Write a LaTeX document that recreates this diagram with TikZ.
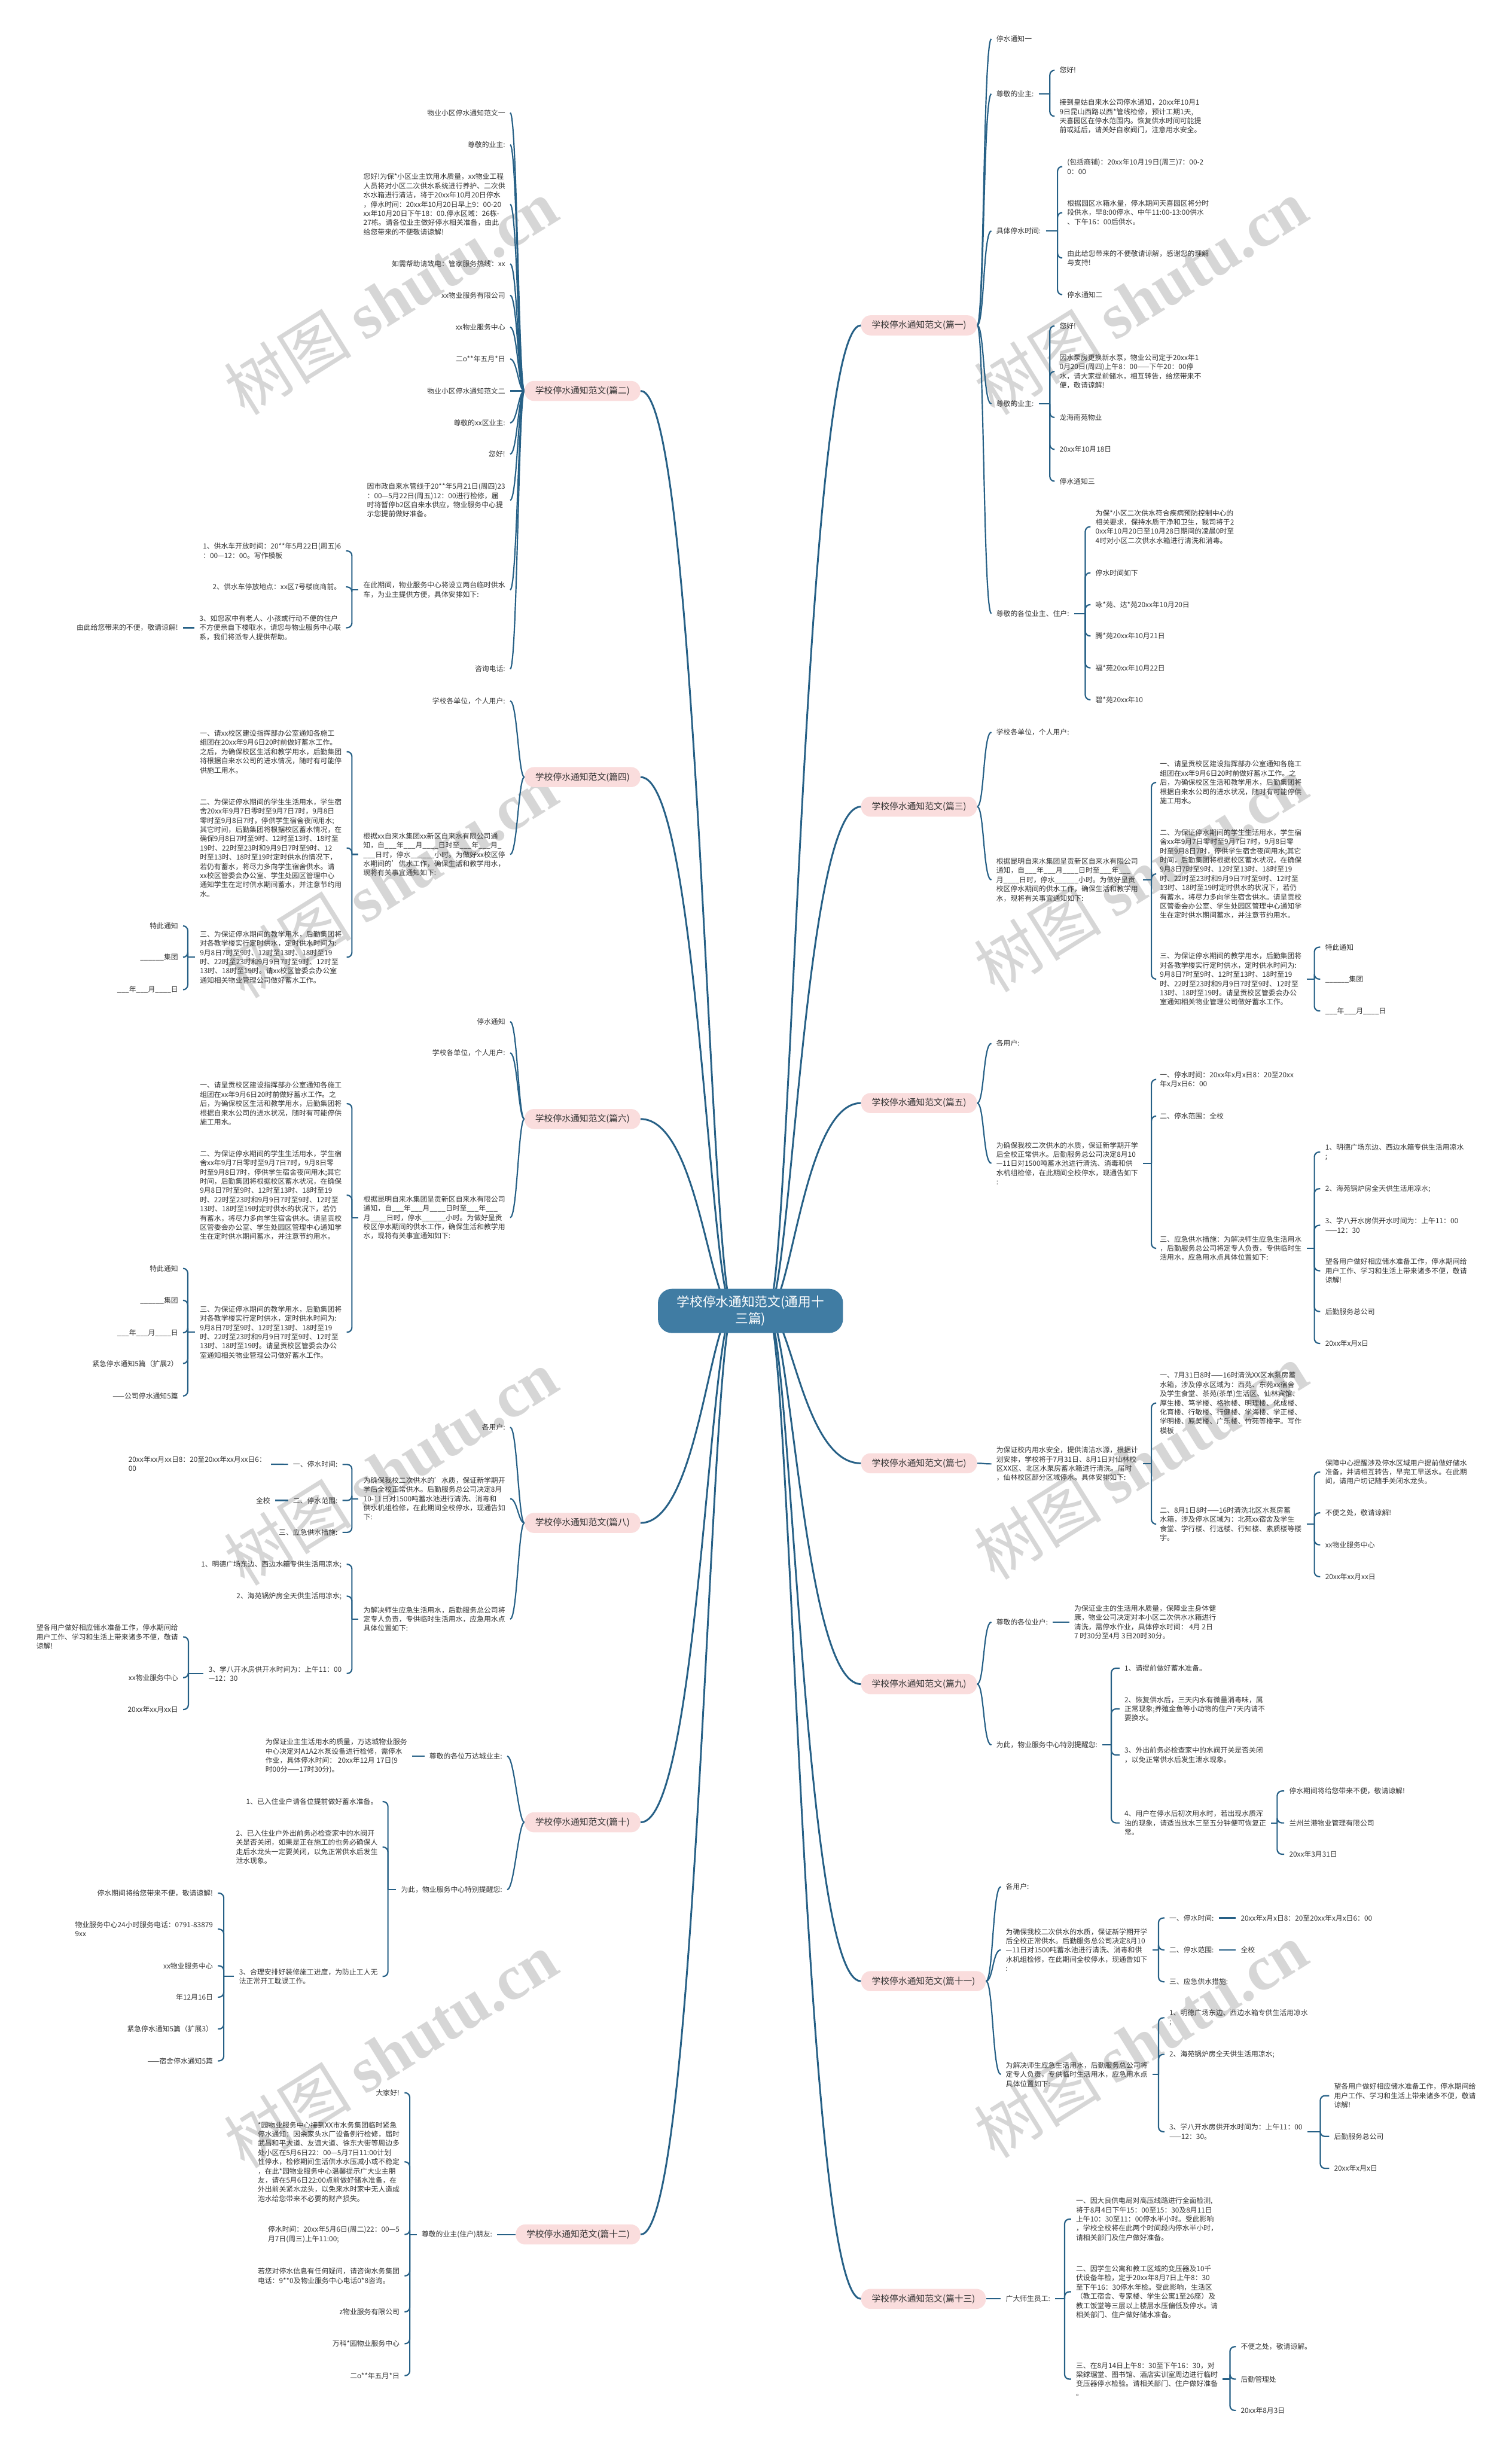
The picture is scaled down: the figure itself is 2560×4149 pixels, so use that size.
\documentclass[tikz,border=0pt]{standalone}
\usepackage{fontspec}
\setmainfont{Noto Sans CJK SC}
\newfontfamily\wmserif{Liberation Serif}
\usepackage{xcolor}
\usepackage{tikz}
\usetikzlibrary{backgrounds}

\definecolor{rootblue}{RGB}{64,124,163}
\definecolor{topicpink}{RGB}{250,221,221}
\definecolor{linkblue}{RGB}{38,96,134}
\definecolor{txtgray}{RGB}{51,51,51}
\definecolor{wmgray}{RGB}{214,214,214}

\begin{document}
\begin{tikzpicture}[x=0.5pt,y=-0.5pt,
  rootbox/.style={fill=rootblue,text=white,rounded corners=12pt,align=center,font=\fontsize{11}{14}\selectfont,inner xsep=16pt,inner ysep=6pt},
  topicbox/.style={fill=topicpink,text=txtgray,rounded corners=8pt,font=\fontsize{7.5}{9}\selectfont,inner xsep=9pt,minimum height=17pt},
  leafbox/.style={text=txtgray,align=left,font=\fontsize{6}{7.8}\selectfont,inner xsep=4pt,inner ysep=1pt},
  rleaf/.style={leafbox,anchor=west},
  lleaf/.style={leafbox,anchor=east},
  mainline/.style={draw,color=linkblue,line width=1.5pt},
  branchline/.style={draw,color=linkblue,line width=1.1pt},
  subline/.style={branchline,rounded corners=4pt},
  rmain/.style={to path={.. controls +(40,0) and +(-98,0) .. (\tikztotarget)}},
  lmain/.style={to path={.. controls +(-40,0) and +(98,0) .. (\tikztotarget)}},
  rcurve/.style={to path={.. controls +(12,0) and +(-14,0) .. (\tikztotarget)}},
  lcurve/.style={to path={.. controls +(-10,0) and +(12,0) .. (\tikztotarget)}},
  brk/.style={to path={|- (\tikztotarget)}},
  wmark/.style={text=wmgray,rotate=32,font=\fontsize{54}{60}\selectfont}]

\useasboundingbox (0,0) rectangle (2560,4149);

\node[rootbox] (root) at (1271,2220) {学校停水通知范文(通用十\\三篇)};
\coordinate (rootR) at (1300,2220);
\coordinate (rootL) at (1242,2220);

\node[topicbox,anchor=west] (b1) at (1458,551) {学校停水通知范文(篇一)};
\node[topicbox,anchor=west] (b3) at (1458,1366) {学校停水通知范文(篇三)};
\node[topicbox,anchor=west] (b5) at (1458,1868) {学校停水通知范文(篇五)};
\node[topicbox,anchor=west] (b7) at (1458,2478) {学校停水通知范文(篇七)};
\node[topicbox,anchor=west] (b9) at (1458,2852) {学校停水通知范文(篇九)};
\node[topicbox,anchor=west] (b11) at (1458,3355) {学校停水通知范文(篇十一)};
\node[topicbox,anchor=west] (b13) at (1458,3893) {学校停水通知范文(篇十三)};
\node[topicbox,anchor=east] (b2) at (1085,662) {学校停水通知范文(篇二)};
\node[topicbox,anchor=east] (b4) at (1085,1316) {学校停水通知范文(篇四)};
\node[topicbox,anchor=east] (b6) at (1085,1895) {学校停水通知范文(篇六)};
\node[topicbox,anchor=east] (b8) at (1085,2579) {学校停水通知范文(篇八)};
\node[topicbox,anchor=east] (b10) at (1085,3086) {学校停水通知范文(篇十)};
\node[topicbox,anchor=east] (b12) at (1085,3784) {学校停水通知范文(篇十二)};

\node[rleaf] (n1a) at (1679,66) {停水通知一};
\node[rleaf] (n1b) at (1679,159) {尊敬的业主:};
\node[rleaf] (n1b1) at (1786,119) {您好!};
\node[rleaf] (n1b2) at (1786,197) {接到皇姑自来水公司停水通知，20xx年10月1\\9日昆山西路以西*管线检修，预计工期1天,\\天喜园区在停水范围内。恢复供水时间可能提\\前或延后，请关好自家阀门，注意用水安全。};
\node[rleaf] (n1c) at (1679,391) {具体停水时间:};
\node[rleaf] (n1c1) at (1799,282) {(包括商铺)：20xx年10月19日(周三)7：00-2\\0：00};
\node[rleaf] (n1c2) at (1799,360) {根据园区水箱水量，停水期间天喜园区将分时\\段供水，早8:00停水、中午11:00-13:00供水\\、下午16：00后供水。};
\node[rleaf] (n1c3) at (1799,437) {由此给您带来的不便敬请谅解，感谢您的理解\\与支持!};
\node[rleaf] (n1c4) at (1799,499) {停水通知二};
\node[rleaf] (n1d) at (1679,684) {尊敬的业主:};
\node[rleaf] (n1d1) at (1786,552) {您好!};
\node[rleaf] (n1d2) at (1786,629) {因水泵房更换新水泵，物业公司定于20xx年1\\0月20日(周四)上午8：00——下午20：00停\\水，请大家提前储水，相互转告，给您带来不\\便，敬请谅解!};
\node[rleaf] (n1d3) at (1786,707) {龙海南苑物业};
\node[rleaf] (n1d4) at (1786,761) {20xx年10月18日};
\node[rleaf] (n1d5) at (1786,815) {停水通知三};
\node[rleaf] (n1e) at (1679,1039) {尊敬的各位业主、住户:};
\node[rleaf] (n1e1) at (1847,892) {为保*小区二次供水符合疾病预防控制中心的\\相关要求，保持水质干净和卫生，我司将于2\\0xx年10月20日至10月28日期间的凌晨0时至\\4时对小区二次供水水箱进行清洗和消毒。};
\node[rleaf] (n1e2) at (1847,970) {停水时间如下};
\node[rleaf] (n1e3) at (1847,1024) {咏*苑、达*苑20xx年10月20日};
\node[rleaf] (n1e4) at (1847,1077) {腾*苑20xx年10月21日};
\node[rleaf] (n1e5) at (1847,1131) {福*苑20xx年10月22日};
\node[rleaf] (n1e6) at (1847,1185) {碧*苑20xx年10};

\node[rleaf] (n3a) at (1679,1240) {学校各单位，个人用户:};
\node[rleaf] (n3b) at (1679,1490) {根据昆明自来水集团呈贡新区自来水有限公司\\通知，自\_\_\_年\_\_\_月\_\_\_\_日时至\_\_\_年\_\_\_\\月\_\_\_\_日时，停水\_\_\_\_\_\_小时。为做好呈贡\\校区停水期间的供水工作，确保生活和教学用\\水，现将有关事宜通知如下:};
\node[rleaf] (n3b1) at (1956,1325) {一、请呈贡校区建设指挥部办公室通知各施工\\组团在xx年9月6日20时前做好蓄水工作。之\\后，为确保校区生活和教学用水，后勤集团将\\根据自来水公司的进水状况，随时有可能停供\\施工用水。};
\node[rleaf] (n3b2) at (1956,1480) {二、为保证停水期间的学生生活用水，学生宿\\舍xx年9月7日零时至9月7日7时，9月8日零\\时至9月8日7时，停供学生宿舍夜间用水;其它\\时间，后勤集团将根据校区蓄水状况，在确保\\9月8日7时至9时、12时至13时、18时至19\\时、22时至23时和9月9日7时至9时、12时至\\13时、18时至19时定时供水的状况下，若仍\\有蓄水，将尽力多向学生宿舍供水。请呈贡校\\区管委会办公室、学生处园区管理中心通知学\\生在定时供水期间蓄水，并注意节约用水。};
\node[rleaf] (n3b3) at (1956,1658) {三、为保证停水期间的教学用水，后勤集团将\\对各教学楼实行定时供水，定时供水时间为:\\9月8日7时至9时、12时至13时、18时至19\\时、22时至23时和9月9日7时至9时、12时至\\13时、18时至19时。请呈贡校区管委会办公\\室通知相关物业管理公司做好蓄水工作。};
\node[rleaf] (n3b3a) at (2236,1604) {特此通知};
\node[rleaf] (n3b3b) at (2236,1658) {\_\_\_\_\_\_集团};
\node[rleaf] (n3b3c) at (2236,1712) {\_\_\_年\_\_\_月\_\_\_\_日};

\node[rleaf] (n5a) at (1679,1767) {各用户:};
\node[rleaf] (n5b) at (1679,1970) {为确保我校二次供水的水质，保证新学期开学\\后全校正常供水。后勤服务总公司决定8月10\\—11日对1500吨蓄水池进行清洗、消毒和供\\水机组检修，在此期间全校停水，现通告如下\\:};
\node[rleaf] (n5b1) at (1956,1828) {一、停水时间：20xx年x月x日8：20至20xx\\年x月x日6：00};
\node[rleaf] (n5b2) at (1956,1890) {二、停水范围：全校};
\node[rleaf] (n5b3) at (1956,2114) {三、应急供水措施：为解决师生应急生活用水\\，后勤服务总公司将定专人负责，专供临时生\\活用水，应急用水点具体位置如下:};
\node[rleaf] (n5b3a) at (2236,1951) {1、明德广场东边、西边水箱专供生活用凉水\\;};
\node[rleaf] (n5b3b) at (2236,2013) {2、海苑锅炉房全天供生活用凉水;};
\node[rleaf] (n5b3c) at (2236,2075) {3、学八开水房供开水时间为：上午11：00\\——12：30};
\node[rleaf] (n5b3d) at (2236,2152) {望各用户做好相应储水准备工作，停水期间给\\用户工作、学习和生活上带来诸多不便，敬请\\谅解!};
\node[rleaf] (n5b3e) at (2236,2221) {后勤服务总公司};
\node[rleaf] (n5b3f) at (2236,2275) {20xx年x月x日};

\node[rleaf] (n7a) at (1679,2479) {为保证校内用水安全，提供清洁水源，根据计\\划安排，学校将于7月31日、8月1日对仙林校\\区XX区、北区水泵房蓄水箱进行清洗。届时\\，仙林校区部分区域停水。具体安排如下:};
\node[rleaf] (n7a1) at (1956,2376) {一、7月31日8时——16时清洗XX区水泵房蓄\\水箱，涉及停水区域为：西苑、东苑xx宿舍\\及学生食堂、茶苑(茶单)生活区、仙林宾馆、\\厚生楼、笃学楼、格物楼、明理楼、化成楼、\\化育楼、行敏楼、行健楼、学海楼、学正楼、\\学明楼、原美楼、广乐楼、竹苑等楼宇。写作\\模板};
\node[rleaf] (n7a2) at (1956,2581) {二、8月1日8时——16时清洗北区水泵房蓄\\水箱，涉及停水区域为：北苑xx宿舍及学生\\食堂、学行楼、行远楼、行知楼、素质楼等楼\\宇。};
\node[rleaf] (n7a2a) at (2236,2493) {保障中心提醒涉及停水区域用户提前做好储水\\准备，并请相互转告，早完工早送水。在此期\\间，请用户切记随手关闭水龙头。};
\node[rleaf] (n7a2b) at (2236,2562) {不便之处，敬请谅解!};
\node[rleaf] (n7a2c) at (2236,2616) {xx物业服务中心};
\node[rleaf] (n7a2d) at (2236,2670) {20xx年xx月xx日};

\node[rleaf] (n9a) at (1679,2747) {尊敬的各位业户:};
\node[rleaf] (n9a1) at (1811,2747) {为保证业主的生活用水质量，保障业主身体健\\康，物业公司决定对本小区二次供水水箱进行\\清洗，需停水作业，具体停水时间： 4月 2日\\7 时30分至4月 3日20时30分。};
\node[rleaf] (n9b) at (1679,2955) {为此，物业服务中心特别提醒您:};
\node[rleaf] (n9b1) at (1896,2825) {1、请提前做好蓄水准备。};
\node[rleaf] (n9b2) at (1896,2894) {2、恢复供水后，三天内水有微量消毒味，属\\正常现象;养殖金鱼等小动物的住户7天内请不\\要换水。};
\node[rleaf] (n9b3) at (1896,2972) {3、外出前务必检查家中的水阀开关是否关闭\\，以免正常供水后发生泄水现象。};
\node[rleaf] (n9b4) at (1896,3087) {4、用户在停水后初次用水时，若出现水质浑\\浊的现象，请适当放水三至五分钟便可恢复正\\常。};
\node[rleaf] (n9b4a) at (2175,3033) {停水期间将给您带来不便，敬请谅解!};
\node[rleaf] (n9b4b) at (2175,3087) {兰州兰港物业管理有限公司};
\node[rleaf] (n9b4c) at (2175,3140) {20xx年3月31日};

\node[rleaf] (n11a) at (1695,3195) {各用户:};
\node[rleaf] (n11b) at (1695,3302) {为确保我校二次供水的水质，保证新学期开学\\后全校正常供水。后勤服务总公司决定8月10\\—11日对1500吨蓄水池进行清洗、消毒和供\\水机组检修，在此期间全校停水，现通告如下\\:};
\node[rleaf] (n11b1) at (1972,3248) {一、停水时间:};
\node[rleaf] (n11b1a) at (2093,3248) {20xx年x月x日8：20至20xx年x月x日6：00};
\node[rleaf] (n11b2) at (1972,3302) {二、停水范围:};
\node[rleaf] (n11b2a) at (2093,3302) {全校};
\node[rleaf] (n11b3) at (1972,3356) {三、应急供水措施:};
\node[rleaf] (n11c) at (1695,3513) {为解决师生应急生活用水，后勤服务总公司将\\定专人负责，专供临时生活用水，应急用水点\\具体位置如下:};
\node[rleaf] (n11c1) at (1972,3417) {1、明德广场东边、西边水箱专供生活用凉水\\;};
\node[rleaf] (n11c2) at (1972,3479) {2、海苑锅炉房全天供生活用凉水;};
\node[rleaf] (n11c3) at (1972,3610) {3、学八开水房供开水时间为：上午11：00\\——12：30。};
\node[rleaf] (n11c3a) at (2251,3549) {望各用户做好相应储水准备工作，停水期间给\\用户工作、学习和生活上带来诸多不便，敬请\\谅解!};
\node[rleaf] (n11c3b) at (2251,3618) {后勤服务总公司};
\node[rleaf] (n11c3c) at (2251,3672) {20xx年x月x日};

\node[rleaf] (n13a) at (1695,3893) {广大师生员工:};
\node[rleaf] (n13a1) at (1814,3758) {一、因大良供电局对高压线路进行全面检测,\\将于8月4日下午15：00至15：30及8月11日\\上午10：30至11：00停水半小时。受此影响\\，学校全校将在此两个时间段内停水半小时，\\请相关部门及住户做好准备。};
\node[rleaf] (n13a2) at (1814,3881) {二、因学生公寓和教工区域的变压器及10千\\伏设备年检，定于20xx年8月7日上午8：30\\至下午16：30停水年检。受此影响，生活区\\（教工宿舍、专家楼、学生公寓1至26座）及\\教工饭堂等三层以上楼层水压偏低及停水。请\\相关部门、住户做好储水准备。};
\node[rleaf] (n13a3) at (1814,4029) {三、在8月14日上午8：30至下午16：30，对\\梁銶琚堂、图书馆、酒店实训室周边进行临时\\变压器停水检验。请相关部门、住户做好准备\\。};
\node[rleaf] (n13a3a) at (2093,3974) {不便之处，敬请谅解。};
\node[rleaf] (n13a3b) at (2093,4029) {后勤管理处};
\node[rleaf] (n13a3c) at (2093,4082) {20xx年8月3日};

\node[lleaf] (n2a) at (864,191) {物业小区停水通知范文一};
\node[lleaf] (n2b) at (864,245) {尊敬的业主:};
\node[lleaf] (n2c) at (864,346) {您好!为保*小区业主饮用水质量，xx物业工程\\人员将对小区二次供水系统进行养护、二次供\\水水箱进行清洁，将于20xx年10月20日停水\\，停水时间：20xx年10月20日早上9：00-20\\xx年10月20日下午18：00.停水区域：26栋-\\27栋。请各位业主做好停水相关准备，由此\\给您带来的不便敬请谅解!};
\node[lleaf] (n2d) at (864,447) {如需帮助请致电：管家服务热线：xx};
\node[lleaf] (n2e) at (864,500) {xx物业服务有限公司};
\node[lleaf] (n2f) at (864,554) {xx物业服务中心};
\node[lleaf] (n2g) at (864,608) {二o**年五月*日};
\node[lleaf] (n2h) at (864,662) {物业小区停水通知范文二};
\node[lleaf] (n2i) at (864,716) {尊敬的xx区业主:};
\node[lleaf] (n2j) at (864,769) {您好!};
\node[lleaf] (n2k) at (864,847) {因市政自来水管线于20**年5月21日(周四)23\\：00—5月22日(周五)12：00进行检修，届\\时将暂停b2区自来水供应，物业服务中心提\\示您提前做好准备。};
\node[lleaf] (n2l) at (864,999) {在此期间，物业服务中心将设立两台临时供水\\车，为业主提供方便，具体安排如下:};
\node[lleaf] (n2l1) at (586,933) {1、供水车开放时间：20**年5月22日(周五)6\\：00—12：00。写作模板};
\node[lleaf] (n2l2) at (586,994) {2、供水车停放地点：xx区7号楼底商前。};
\node[lleaf] (n2l3) at (586,1063) {3、如您家中有老人、小孩或行动不便的住户\\不方便亲自下楼取水，请您与物业服务中心联\\系，我们将派专人提供帮助。};
\node[lleaf] (n2l3a) at (310,1063) {由此给您带来的不便，敬请谅解!};
\node[lleaf] (n2m) at (864,1133) {咨询电话:};

\node[lleaf] (n4a) at (864,1187) {学校各单位，个人用户:};
\node[lleaf] (n4b) at (864,1447) {根据xx自来水集团xx新区自来水有限公司通\\知，自\_\_\_年\_\_\_月\_\_\_\_日时至\_\_\_年\_\_\_月\_\\\_\_\_日时，停水\_\_\_\_\_\_小时。为做好xx校区停\\水期间的'供水工作，确保生活和教学用水，\\现将有关事宜通知如下:};
\node[lleaf] (n4b1) at (587,1273) {一、请xx校区建设指挥部办公室通知各施工\\组团在20xx年9月6日20时前做好蓄水工作。\\之后，为确保校区生活和教学用水，后勤集团\\将根据自来水公司的进水情况，随时有可能停\\供施工用水。};
\node[lleaf] (n4b2) at (587,1436) {二、为保证停水期间的学生生活用水，学生宿\\舍20xx年9月7日零时至9月7日7时，9月8日\\零时至9月8日7时，停供学生宿舍夜间用水;\\其它时间，后勤集团将根据校区蓄水情况，在\\确保9月8日7时至9时、12时至13时、18时至\\19时、22时至23时和9月9日7时至9时、12\\时至13时、18时至19时定时供水的情况下，\\若仍有蓄水，将尽力多向学生宿舍供水。请\\xx校区管委会办公室、学生处园区管理中心\\通知学生在定时供水期间蓄水，并注意节约用\\水。};
\node[lleaf] (n4b3) at (587,1621) {三、为保证停水期间的教学用水，后勤集团将\\对各教学楼实行定时供水，定时供水时间为:\\9月8日7时至9时、12时至13时、18时至19\\时、22时至23时和9月9日7时至9时、12时至\\13时、18时至19时。请xx校区管委会办公室\\通知相关物业管理公司做好蓄水工作。};
\node[lleaf] (n4b3a) at (310,1568) {特此通知};
\node[lleaf] (n4b3b) at (310,1621) {\_\_\_\_\_\_集团};
\node[lleaf] (n4b3c) at (310,1676) {\_\_\_年\_\_\_月\_\_\_\_日};

\node[lleaf] (n6a) at (864,1730) {停水通知};
\node[lleaf] (n6b) at (864,1783) {学校各单位，个人用户:};
\node[lleaf] (n6c) at (864,2062) {根据昆明自来水集团呈贡新区自来水有限公司\\通知，自\_\_\_年\_\_\_月\_\_\_\_日时至\_\_\_年\_\_\_\\月\_\_\_\_日时，停水\_\_\_\_\_\_小时。为做好呈贡\\校区停水期间的供水工作，确保生活和教学用\\水，现将有关事宜通知如下:};
\node[lleaf] (n6c1) at (587,1869) {一、请呈贡校区建设指挥部办公室通知各施工\\组团在xx年9月6日20时前做好蓄水工作。之\\后，为确保校区生活和教学用水，后勤集团将\\根据自来水公司的进水状况，随时有可能停供\\施工用水。};
\node[lleaf] (n6c2) at (587,2024) {二、为保证停水期间的学生生活用水，学生宿\\舍xx年9月7日零时至9月7日7时，9月8日零\\时至9月8日7时，停供学生宿舍夜间用水;其它\\时间，后勤集团将根据校区蓄水状况，在确保\\9月8日7时至9时、12时至13时、18时至19\\时、22时至23时和9月9日7时至9时、12时至\\13时、18时至19时定时供水的状况下，若仍\\有蓄水，将尽力多向学生宿舍供水。请呈贡校\\区管委会办公室、学生处园区管理中心通知学\\生在定时供水期间蓄水，并注意节约用水。};
\node[lleaf] (n6c3) at (587,2256) {三、为保证停水期间的教学用水，后勤集团将\\对各教学楼实行定时供水，定时供水时间为:\\9月8日7时至9时、12时至13时、18时至19\\时、22时至23时和9月9日7时至9时、12时至\\13时、18时至19时。请呈贡校区管委会办公\\室通知相关物业管理公司做好蓄水工作。};
\node[lleaf] (n6c3a) at (310,2148) {特此通知};
\node[lleaf] (n6c3b) at (310,2202) {\_\_\_\_\_\_集团};
\node[lleaf] (n6c3c) at (310,2257) {\_\_\_年\_\_\_月\_\_\_\_日};
\node[lleaf] (n6c3d) at (310,2309) {紧急停水通知5篇（扩展2）};
\node[lleaf] (n6c3e) at (310,2364) {——公司停水通知5篇};

\node[lleaf] (n8a) at (864,2417) {各用户:};
\node[lleaf] (n8b) at (864,2538) {为确保我校二次供水的'水质，保证新学期开\\学后全校正常供水。后勤服务总公司决定8月\\10-11日对1500吨蓄水池进行清洗、消毒和\\供水机组检修，在此期间全校停水，现通告如\\下:};
\node[lleaf] (n8b1) at (580,2480) {一、停水时间:};
\node[lleaf] (n8b1a) at (459,2479) {20xx年xx月xx日8：20至20xx年xx月xx日6：\\00};
\node[lleaf] (n8b2) at (580,2541) {二、停水范围:};
\node[lleaf] (n8b2a) at (466,2541) {全校};
\node[lleaf] (n8b3) at (580,2595) {三、应急供水措施:};
\node[lleaf] (n8c) at (864,2742) {为解决师生应急生活用水，后勤服务总公司将\\定专人负责，专供临时生活用水，应急用水点\\具体位置如下:};
\node[lleaf] (n8c1) at (587,2649) {1、明德广场东边、西边水箱专供生活用凉水;};
\node[lleaf] (n8c2) at (587,2703) {2、海苑锅炉房全天供生活用凉水;};
\node[lleaf] (n8c3) at (587,2834) {3、学八开水房供开水时间为：上午11：00\\—12：30};
\node[lleaf] (n8c3a) at (310,2772) {望各用户做好相应储水准备工作，停水期间给\\用户工作、学习和生活上带来诸多不便，敬请\\谅解!};
\node[lleaf] (n8c3b) at (310,2841) {xx物业服务中心};
\node[lleaf] (n8c3c) at (310,2895) {20xx年xx月xx日};

\node[lleaf] (n10a) at (859,2974) {尊敬的各位万达城业主:};
\node[lleaf] (n10a1) at (698,2974) {为保证业主生活用水的质量，万达城物业服务\\中心决定对A1A2水泵设备进行检修，需停水\\作业，具体停水时间： 20xx年12月 17日(9\\时00分——17时30分)。};
\node[lleaf] (n10b) at (859,3200) {为此，物业服务中心特别提醒您:};
\node[lleaf] (n10b1) at (648,3051) {1、已入住业户请各位提前做好蓄水准备。};
\node[lleaf] (n10b2) at (648,3128) {2、已入住业户外出前务必检查家中的水阀开\\关是否关闭，如果是正在施工的也务必确保人\\走后水龙头一定要关闭，以免正常供水后发生\\泄水现象。};
\node[lleaf] (n10b3) at (648,3347) {3、合理安排好装修施工进度，为防止工人无\\法正常开工耽误工作。};
\node[lleaf] (n10b3a) at (369,3206) {停水期间将给您带来不便，敬请谅解!};
\node[lleaf] (n10b3b) at (369,3267) {物业服务中心24小时服务电话：0791-83879\\9xx};
\node[lleaf] (n10b3c) at (369,3329) {xx物业服务中心};
\node[lleaf] (n10b3d) at (369,3382) {年12月16日};
\node[lleaf] (n10b3e) at (369,3436) {紧急停水通知5篇（扩展3）};
\node[lleaf] (n10b3f) at (369,3490) {——宿舍停水通知5篇};

\node[lleaf] (n12a) at (842,3784) {尊敬的业主(住户)朋友:};
\node[lleaf] (n12a1) at (685,3544) {大家好!};
\node[lleaf] (n12a2) at (685,3661) {*园物业服务中心接到XX市水务集团临时紧急\\停水通知：因余家头水厂设备例行检修，届时\\武昌和平大道、友谊大道、徐东大街等周边多\\处小区在5月6日22：00—5月7日11:00计划\\性停水，检修期间生活供水水压减小或不稳定\\，在此*园物业服务中心温馨提示广大业主朋\\友，请在5月6日22:00点前做好储水准备，在\\外出前关紧水龙头，以免来水时家中无人造成\\泡水给您带来不必要的财产损失。};
\node[lleaf] (n12a3) at (685,3784) {停水时间：20xx年5月6日(周二)22：00—5\\月7日(周三)上午11:00;};
\node[lleaf] (n12a4) at (685,3854) {若您对停水信息有任何疑问，请咨询水务集团\\电话：9**0及物业服务中心电话0*8咨询。};
\node[lleaf] (n12a5) at (685,3915) {z物业服务有限公司};
\node[lleaf] (n12a6) at (685,3969) {万科*园物业服务中心};
\node[lleaf] (n12a7) at (685,4023) {二o**年五月*日};

\begin{scope}[on background layer]
  \fill[white] (0,0) rectangle (2560,4149);
  \node[wmark] (wm1) at (662,503) {树图 {\wmserif\bfseries shutu.cn}};
  \node[wmark] (wm2) at (1932,503) {树图 {\wmserif\bfseries shutu.cn}};
  \node[wmark] (wm3) at (662,1490) {树图 {\wmserif\bfseries shutu.cn}};
  \node[wmark] (wm4) at (1932,1480) {树图 {\wmserif\bfseries shutu.cn}};
  \node[wmark] (wm5) at (662,2485) {树图 {\wmserif\bfseries shutu.cn}};
  \node[wmark] (wm6) at (1932,2475) {树图 {\wmserif\bfseries shutu.cn}};
  \node[wmark] (wm7) at (662,3472) {树图 {\wmserif\bfseries shutu.cn}};
  \node[wmark] (wm8) at (1932,3455) {树图 {\wmserif\bfseries shutu.cn}};

  \path[mainline] (rootR) edge[rmain] (b1.west) edge[rmain] (b3.west) edge[rmain] (b5.west)
        edge[rmain] (b7.west) edge[rmain] (b9.west) edge[rmain] (b11.west) edge[rmain] (b13.west);
  \path[mainline] (rootL) edge[lmain] (b2.east) edge[lmain] (b4.east) edge[lmain] (b6.east)
        edge[lmain] (b8.east) edge[lmain] (b10.east) edge[lmain] (b12.east);

  \path[branchline] (b1.east) edge[rcurve] (n1a.west) edge[rcurve] (n1b.west) edge[rcurve] (n1c.west)
        edge[rcurve] (n1d.west) edge[rcurve] (n1e.west);
  \path[branchline] (b3.east) edge[rcurve] (n3a.west) edge[rcurve] (n3b.west);
  \path[branchline] (b5.east) edge[rcurve] (n5a.west) edge[rcurve] (n5b.west);
  \path[branchline] (b7.east) edge[rcurve] (n7a.west);
  \path[branchline] (b9.east) edge[rcurve] (n9a.west) edge[rcurve] (n9b.west);
  \path[branchline] (b11.east) edge[rcurve] (n11a.west) edge[rcurve] (n11b.west) edge[rcurve] (n11c.west);
  \path[branchline] (b13.east) edge[rcurve] (n13a.west);
  \path[branchline] (b2.west) edge[lcurve] (n2a.east) edge[lcurve] (n2b.east) edge[lcurve] (n2c.east)
        edge[lcurve] (n2d.east) edge[lcurve] (n2e.east) edge[lcurve] (n2f.east) edge[lcurve] (n2g.east)
        edge[lcurve] (n2h.east) edge[lcurve] (n2i.east) edge[lcurve] (n2j.east) edge[lcurve] (n2k.east)
        edge[lcurve] (n2l.east) edge[lcurve] (n2m.east);
  \path[branchline] (b4.west) edge[lcurve] (n4a.east) edge[lcurve] (n4b.east);
  \path[branchline] (b6.west) edge[lcurve] (n6a.east) edge[lcurve] (n6b.east) edge[lcurve] (n6c.east);
  \path[branchline] (b8.west) edge[lcurve] (n8a.east) edge[lcurve] (n8b.east) edge[lcurve] (n8c.east);
  \path[branchline] (b10.west) edge[lcurve] (n10a.east) edge[lcurve] (n10b.east);
  \path[branchline] (b12.west) edge[lcurve] (n12a.east);

  \draw[subline] (n1b) -- (1778,0 |- n1b) edge[brk] (n1b1) edge[brk] (n1b2);
  \draw[subline] (n1c) -- (1791,0 |- n1c) edge[brk] (n1c1) edge[brk] (n1c2) edge[brk] (n1c3) edge[brk] (n1c4);
  \draw[subline] (n1d) -- (1778,0 |- n1d) edge[brk] (n1d1) edge[brk] (n1d2) edge[brk] (n1d3) edge[brk] (n1d4) edge[brk] (n1d5);
  \draw[subline] (n1e) -- (1838,0 |- n1e) edge[brk] (n1e1) edge[brk] (n1e2) edge[brk] (n1e3) edge[brk] (n1e4) edge[brk] (n1e5) edge[brk] (n1e6);
  \draw[subline] (n3b) -- (1950,0 |- n3b) edge[brk] (n3b1) edge[brk] (n3b2) edge[brk] (n3b3);
  \draw[subline] (n3b3) -- (2226,0 |- n3b3) edge[brk] (n3b3a) edge[brk] (n3b3b) edge[brk] (n3b3c);
  \draw[subline] (n5b) -- (1950,0 |- n5b) edge[brk] (n5b1) edge[brk] (n5b2) edge[brk] (n5b3);
  \draw[subline] (n5b3) -- (2226,0 |- n5b3) edge[brk] (n5b3a) edge[brk] (n5b3b) edge[brk] (n5b3c) edge[brk] (n5b3d) edge[brk] (n5b3e) edge[brk] (n5b3f);
  \draw[subline] (n7a) -- (1950,0 |- n7a) edge[brk] (n7a1) edge[brk] (n7a2);
  \draw[subline] (n7a2) -- (2226,0 |- n7a2) edge[brk] (n7a2a) edge[brk] (n7a2b) edge[brk] (n7a2c) edge[brk] (n7a2d);
  \draw[subline] (n9a) -- (n9a1);
  \draw[subline] (n9b) -- (1882,0 |- n9b) edge[brk] (n9b1) edge[brk] (n9b2) edge[brk] (n9b3) edge[brk] (n9b4);
  \draw[subline] (n9b4) -- (2163,0 |- n9b4) edge[brk] (n9b4a) edge[brk] (n9b4b) edge[brk] (n9b4c);
  \draw[subline] (n11b) -- (1962,0 |- n11b) edge[brk] (n11b1) edge[brk] (n11b2) edge[brk] (n11b3);
  \draw[subline] (n11b1) -- (n11b1a);
  \draw[subline] (n11b2) -- (n11b2a);
  \draw[subline] (n11c) -- (1962,0 |- n11c) edge[brk] (n11c1) edge[brk] (n11c2) edge[brk] (n11c3);
  \draw[subline] (n11c3) -- (2236,0 |- n11c3) edge[brk] (n11c3a) edge[brk] (n11c3b) edge[brk] (n11c3c);
  \draw[subline] (n13a) -- (1803,0 |- n13a) edge[brk] (n13a1) edge[brk] (n13a2) edge[brk] (n13a3);
  \draw[subline] (n13a3) -- (2083,0 |- n13a3) edge[brk] (n13a3a) edge[brk] (n13a3b) edge[brk] (n13a3c);

  \draw[subline] (n2l) -- (596,0 |- n2l) edge[brk] (n2l1) edge[brk] (n2l2) edge[brk] (n2l3);
  \draw[subline] (n2l3) -- (n2l3a);
  \draw[subline] (n4b) -- (596,0 |- n4b) edge[brk] (n4b1) edge[brk] (n4b2) edge[brk] (n4b3);
  \draw[subline] (n4b3) -- (318,0 |- n4b3) edge[brk] (n4b3a) edge[brk] (n4b3b) edge[brk] (n4b3c);
  \draw[subline] (n6c) -- (596,0 |- n6c) edge[brk] (n6c1) edge[brk] (n6c2) edge[brk] (n6c3);
  \draw[subline] (n6c3) -- (318,0 |- n6c3) edge[brk] (n6c3a) edge[brk] (n6c3b) edge[brk] (n6c3c) edge[brk] (n6c3d) edge[brk] (n6c3e);
  \draw[subline] (n8b) -- (596,0 |- n8b) edge[brk] (n8b1) edge[brk] (n8b2) edge[brk] (n8b3);
  \draw[subline] (n8b1) -- (n8b1a);
  \draw[subline] (n8b2) -- (n8b2a);
  \draw[subline] (n8c) -- (596,0 |- n8c) edge[brk] (n8c1) edge[brk] (n8c2) edge[brk] (n8c3);
  \draw[subline] (n8c3) -- (319,0 |- n8c3) edge[brk] (n8c3a) edge[brk] (n8c3b) edge[brk] (n8c3c);
  \draw[subline] (n10a) -- (n10a1);
  \draw[subline] (n10b) -- (657,0 |- n10b) edge[brk] (n10b1) edge[brk] (n10b2) edge[brk] (n10b3);
  \draw[subline] (n10b3) -- (379,0 |- n10b3) edge[brk] (n10b3a) edge[brk] (n10b3b) edge[brk] (n10b3c) edge[brk] (n10b3d) edge[brk] (n10b3e) edge[brk] (n10b3f);
  \draw[subline] (n12a) -- (694,0 |- n12a) edge[brk] (n12a1) edge[brk] (n12a2) edge[brk] (n12a3) edge[brk] (n12a4) edge[brk] (n12a5) edge[brk] (n12a6) edge[brk] (n12a7);
\end{scope}
\end{tikzpicture}
\end{document}
